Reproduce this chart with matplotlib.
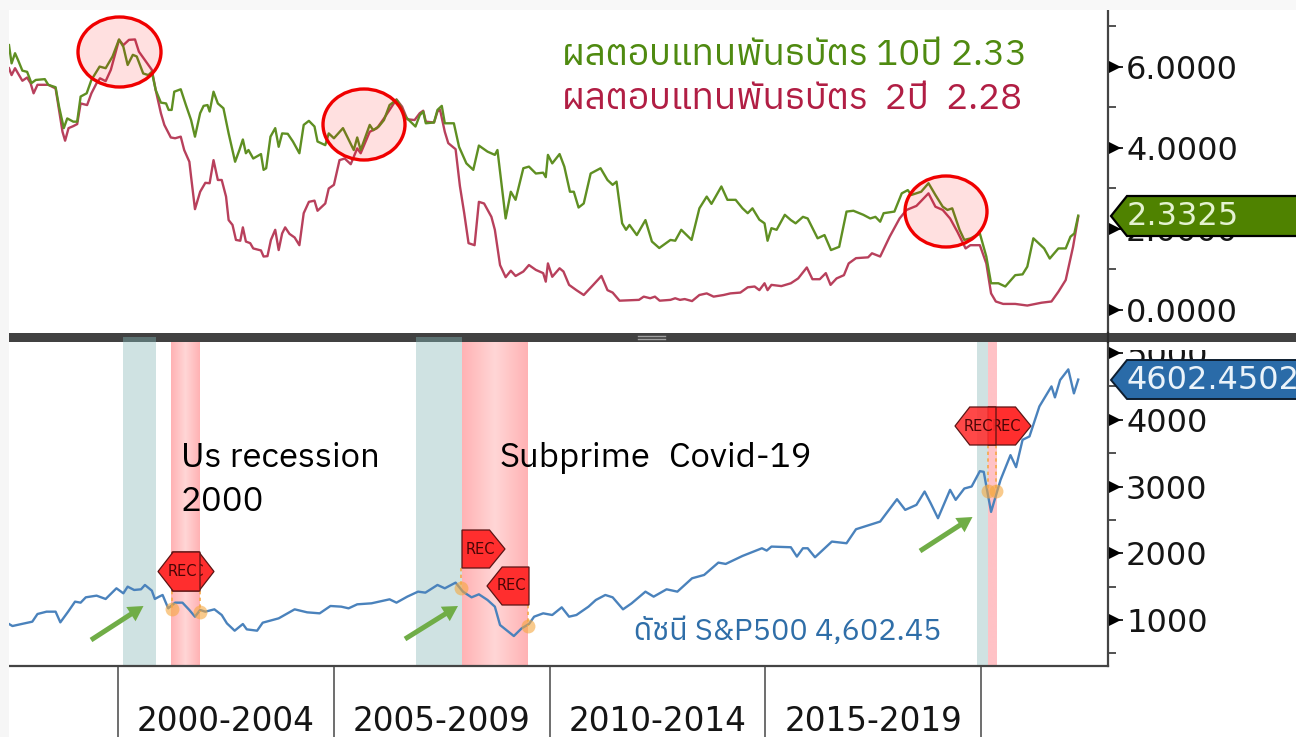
import numpy as np
import matplotlib
matplotlib.use("Agg")
import matplotlib.pyplot as plt
from matplotlib import font_manager as fm
from matplotlib.ft2font import FT2Font
from matplotlib.patches import Ellipse, Polygon, Rectangle, FancyArrow

# ---------- data ----------
y10_year = [1997.47,1997.53,1997.61,1997.68,1997.78,1997.89,1997.99,1998.09,1998.30,1998.38,1998.55,1998.63,1998.74,1998.82,1998.96,1999.05,1999.13,1999.27,1999.38,1999.57,1999.71,1999.87,2000.02,2000.12,2000.22,2000.34,2000.43,2000.58,2000.70,2000.78,2000.87,2000.99,2001.11,2001.17,2001.24,2001.30,2001.45,2001.57,2001.69,2001.78,2001.90,2001.98,2002.07,2002.12,2002.21,2002.31,2002.44,2002.56,2002.71,2002.81,2002.89,2002.96,2003.02,2003.13,2003.31,2003.37,2003.43,2003.53,2003.64,2003.72,2003.80,2003.93,2004.05,2004.20,2004.30,2004.42,2004.55,2004.62,2004.80,2004.88,2005.00,2005.21,2005.46,2005.54,2005.62,2005.83,2005.91,2006.04,2006.16,2006.29,2006.45,2006.53,2006.66,2006.89,2006.99,2007.07,2007.13,2007.32,2007.40,2007.50,2007.57,2007.78,2007.90,2008.07,2008.23,2008.36,2008.56,2008.73,2008.79,2008.89,2008.98,2009.10,2009.21,2009.39,2009.52,2009.68,2009.85,2009.91,2009.96,2010.06,
2010.23,2010.34,2010.47,2010.56,2010.67,2010.79,2010.95,2011.18,2011.34,2011.46,2011.55,2011.68,2011.77,2011.85,2012.02,2012.22,2012.37,2012.54,2012.80,2012.91,2013.05,2013.29,2013.47,2013.64,2013.75,2013.98,2014.12,2014.31,2014.47,2014.59,2014.70,2014.86,2014.98,2015.05,2015.14,2015.26,2015.45,2015.59,2015.70,2015.87,2015.98,2016.21,2016.37,2016.52,2016.71,2016.88,2017.04,2017.27,2017.43,2017.55,2017.66,2017.74,2017.99,2018.16,2018.30,2018.38,2018.61,2018.78,2018.94,2019.11,2019.22,2019.33,2019.50,2019.61,2019.76,2019.97,2020.12,2020.23,2020.40,2020.56,2020.79,2020.96,2021.07,2021.21,2021.46,2021.59,2021.79,2021.96,2022.07,2022.16,2022.25]
y10_value = [6.54,6.09,6.34,6.17,5.91,5.88,5.60,5.68,5.70,5.56,5.50,5.02,4.49,4.73,4.65,4.65,5.27,5.35,5.68,6.01,5.97,6.26,6.68,6.50,6.05,6.30,6.26,5.84,5.80,5.88,5.43,5.12,5.10,4.94,4.94,5.39,5.45,5.06,4.69,4.28,4.86,5.04,5.06,4.90,5.39,5.10,4.98,4.36,3.66,3.95,4.21,3.87,3.95,3.74,3.85,3.46,3.50,4.28,4.49,4.03,4.36,4.35,4.16,3.87,4.57,4.67,4.53,4.16,4.07,4.36,4.24,4.49,3.95,4.26,3.95,4.57,4.44,4.53,4.69,5.06,5.19,5.06,4.77,4.53,4.81,4.90,4.61,4.63,4.94,5.04,4.61,4.61,4.03,3.62,3.46,4.06,3.91,3.83,3.95,3.05,2.26,2.92,2.72,3.50,3.54,3.37,3.39,3.28,3.83,3.62,
3.85,3.54,2.92,2.92,2.53,2.63,3.37,3.50,3.21,3.09,3.17,2.14,1.98,2.10,1.85,2.22,1.69,1.53,1.73,1.71,1.98,1.73,2.51,2.80,2.62,3.05,2.72,2.72,2.51,2.39,2.51,2.23,2.14,1.71,2.02,1.98,2.35,2.22,2.14,2.30,2.26,1.77,1.85,1.48,1.56,2.43,2.45,2.35,2.26,2.30,2.18,2.39,2.43,2.88,2.96,2.84,2.92,3.13,2.84,2.55,2.47,2.51,1.98,1.73,1.77,1.89,1.32,0.66,0.66,0.58,0.86,0.88,1.07,1.77,1.52,1.27,1.52,1.52,1.81,1.89,2.33]

y2_year = [1997.47,1997.53,1997.61,1997.68,1997.78,1997.89,1997.97,1998.04,1998.13,1998.38,1998.55,1998.63,1998.71,1998.77,1998.85,1998.96,1999.05,1999.13,1999.28,1999.38,1999.50,1999.58,1999.71,1999.83,2000.02,2000.12,2000.25,2000.39,2000.48,2000.62,2000.78,2000.87,2000.99,2001.07,2001.22,2001.32,2001.45,2001.53,2001.65,2001.69,2001.78,2001.90,2002.02,2002.12,2002.21,2002.31,2002.40,2002.50,2002.56,2002.65,2002.73,2002.83,2002.89,2002.96,2003.06,2003.13,2003.31,2003.37,2003.46,2003.54,2003.64,2003.72,2003.80,2003.87,2003.97,2004.09,2004.20,2004.30,2004.42,2004.55,2004.62,2004.80,2004.88,2005.00,2005.13,2005.25,2005.39,2005.54,2005.62,2005.83,2006.00,2006.16,2006.29,2006.45,2006.58,2006.70,2006.87,2006.99,2007.07,2007.13,2007.32,2007.40,2007.46,2007.57,2007.65,2007.82,2007.92,2008.02,2008.12,2008.26,2008.36,2008.48,2008.65,2008.73,2008.85,2008.98,2009.10,2009.21,2009.39,2009.52,2009.68,2009.85,2009.91,2009.96,2010.06,
2010.23,2010.32,2010.45,2010.62,2010.79,2011.01,2011.20,2011.34,2011.46,2011.62,2012.07,2012.18,2012.33,2012.44,2012.55,2012.80,2012.91,2013.02,2013.13,2013.30,2013.47,2013.64,2013.80,2014.03,2014.19,2014.42,2014.59,2014.75,2014.86,2014.98,2015.05,2015.14,2015.37,2015.59,2015.76,2015.96,2016.09,2016.26,2016.40,2016.51,2016.65,2016.82,2016.93,2017.10,2017.38,2017.47,2017.66,2017.88,2018.11,2018.27,2018.50,2018.78,2018.94,2019.11,2019.28,2019.45,2019.64,2019.75,2019.97,2020.12,2020.23,2020.34,2020.51,2020.79,2021.07,2021.40,2021.63,2021.79,2021.96,2022.13,2022.25]
y2_value = [5.97,5.80,5.97,5.84,5.66,5.74,5.60,5.35,5.56,5.56,5.47,4.94,4.40,4.18,4.49,4.54,4.59,5.10,5.06,5.35,5.60,5.72,5.65,5.93,6.67,6.54,6.67,6.68,6.38,6.17,5.93,5.43,4.86,4.57,4.26,4.24,4.28,3.95,3.66,3.29,2.49,2.92,3.14,3.13,3.70,3.21,3.21,2.80,2.22,2.10,1.73,1.71,2.04,1.69,1.65,1.52,1.47,1.32,1.33,1.73,1.98,1.48,1.89,2.04,1.88,1.79,1.60,2.39,2.67,2.70,2.45,2.63,3.00,3.09,3.70,3.74,3.60,3.99,3.87,4.40,4.49,4.73,4.94,5.20,5.02,4.71,4.69,4.86,4.92,4.65,4.63,4.90,4.94,4.40,4.12,3.97,3.06,2.39,1.65,1.60,2.67,2.63,2.30,1.98,1.11,0.81,0.97,0.84,0.95,1.11,0.99,0.91,0.70,1.15,0.82,
1.03,0.95,0.62,0.49,0.37,0.62,0.84,0.49,0.43,0.23,0.25,0.33,0.29,0.33,0.23,0.25,0.29,0.25,0.27,0.22,0.37,0.41,0.33,0.37,0.41,0.43,0.56,0.58,0.49,0.66,0.49,0.62,0.59,0.66,0.78,1.05,0.76,0.76,0.91,0.62,0.78,0.86,1.15,1.28,1.30,1.40,1.32,1.81,2.26,2.47,2.57,2.88,2.55,2.47,2.26,1.93,1.52,1.60,1.60,1.15,0.41,0.21,0.15,0.15,0.11,0.18,0.21,0.45,0.74,1.56,2.30]

spx_year = [1997.47,1997.55,1997.76,1998.01,1998.13,1998.34,1998.55,1998.66,1998.84,1999.00,1999.13,1999.25,1999.50,1999.71,1999.96,2000.12,2000.22,2000.37,2000.53,2000.62,2000.78,2000.85,2000.95,2001.03,2001.16,2001.32,2001.49,2001.65,2001.78,2001.90,2002.02,2002.23,2002.40,2002.52,2002.70,2002.89,2002.98,2003.22,2003.35,2003.72,2004.09,2004.38,2004.67,2004.92,2005.17,2005.34,2005.54,2005.87,2006.29,2006.45,2006.70,2006.95,2007.12,2007.40,2007.57,2007.82,2007.99,2008.19,2008.36,2008.56,2008.73,2008.85,2009.17,2009.35,2009.52,2009.64,2009.85,2010.06,
2010.28,2010.45,2010.62,2010.90,2011.07,2011.29,2011.46,2011.70,2011.90,2012.22,2012.41,2012.71,2012.96,2013.30,2013.58,2013.91,2014.08,2014.47,2014.92,2015.03,2015.14,2015.59,2015.73,2015.87,2015.98,2016.15,2016.54,2016.88,2017.10,2017.49,2017.66,2018.05,2018.24,2018.50,2018.69,2018.83,2019.00,2019.28,2019.41,2019.61,2019.78,2019.97,2020.06,2020.23,2020.45,2020.68,2020.81,2020.96,2021.12,2021.35,2021.63,2021.71,2021.83,2022.02,2022.15,2022.25]
spx_value = [940,910,940,975,1090,1125,1125,965,1125,1275,1260,1340,1365,1315,1475,1400,1500,1450,1460,1525,1440,1315,1350,1375,1175,1260,1260,1150,1050,1150,1125,1160,1075,950,840,940,860,840,960,1025,1160,1115,1100,1210,1200,1175,1235,1250,1310,1260,1350,1425,1410,1525,1475,1560,1425,1340,1385,1300,1200,925,760,875,940,1050,1100,1075,
1190,1050,1075,1200,1300,1375,1340,1160,1250,1425,1350,1460,1425,1625,1675,1860,1840,1960,2075,2040,2100,2090,1950,2075,2075,1940,2175,2150,2360,2440,2475,2810,2650,2725,2925,2750,2525,2950,2800,2970,3000,3230,3220,2620,3100,3470,3290,3700,3750,4200,4500,4335,4595,4755,4395,4602]

early_bands = [(2000.12, 2000.88), (2006.91, 2007.97), (2019.91, 2020.16)]
recession_bands = [(2001.23, 2001.88), (2007.97, 2009.48), (2020.16, 2020.35)]
period_ticks = [2000, 2005, 2010, 2015, 2020]
period_mids = [2002.5, 2007.5, 2012.5, 2017.5]
period_labels = ["2000-2004", "2005-2009", "2010-2014", "2015-2019"]
yield_major = [0, 2, 4, 6]
yield_minor = [1, 3, 5, 7]
spx_major = [1000, 2000, 3000, 4000, 5000]
spx_minor = [500, 1500, 2500, 3500, 4500]

# ---------- fonts ----------
def thai_font():
    found = []
    for f in fm.fontManager.ttflist:
        try:
            cmap = FT2Font(f.fname).get_charmap()
        except Exception:
            continue
        if 0x0E1C in cmap and 0x0E31 in cmap:
            found.append(f.name)
    return sorted(set(found))
thai = thai_font()
text_fam = (thai[:1] if thai else []) + ["Noto Sans", "DejaVu Sans"]

W, H = 1296, 737
LEFT, RIGHT = 9, 1108
fig = plt.figure(figsize=(W / 100, H / 100), dpi=100, facecolor="white")

def add_axes(top, bottom):
    return fig.add_axes([LEFT / W, 1 - bottom / H, (RIGHT - LEFT) / W, (bottom - top) / H])

xlim = (1997.47, 2022.94)
BLACK = "#151515"
AXC = "#444444"
TICK_FS = 23

ax1 = add_axes(10, 333)
ax2 = add_axes(342, 666)
for ax in (ax1, ax2):
    ax.set_facecolor("white")
    ax.set_xlim(*xlim)
    for s in ("left", "top"):
        ax.spines[s].set_visible(False)
    ax.spines["right"].set_color(AXC)
    ax.spines["right"].set_linewidth(1.6)
    ax.yaxis.tick_right()
    ax.tick_params(axis="y", which="major", length=11, width=1.3, color=BLACK, pad=2,
                   labelsize=TICK_FS, labelcolor=BLACK)
    ax.tick_params(axis="y", which="minor", length=5.5, width=1.3, color=AXC)

# top panel
ax1.spines["bottom"].set_visible(False)
ax1.tick_params(axis="x", length=0, labelbottom=False)
ax1.set_ylim(-0.568, 7.407)
ax1.set_yticks(yield_major)
ax1.set_yticklabels([f"{v:.4f}" for v in yield_major])
ax1.set_yticks(yield_minor, minor=True)
ax1.plot(y10_year, y10_value, color="#5F8F22", lw=1.7, zorder=3, solid_joinstyle="round")
ax1.plot(y2_year, y2_value, color="#B8405C", lw=1.7, zorder=2.9, solid_joinstyle="round")
ax1.plot([1.0065] * len(yield_major), yield_major, ">", ms=9, color="black", mew=0,
         transform=ax1.get_yaxis_transform(), clip_on=False, zorder=5)

# bottom panel
ax2.set_ylim(311, 5165)
ax2.set_yticks(spx_major)
ax2.set_yticks(spx_minor, minor=True)
ax2.spines["bottom"].set_color(AXC)
ax2.spines["bottom"].set_linewidth(1.6)
ax2.set_xticks(period_ticks)
ax2.set_xticklabels([""] * len(period_ticks))
ax2.set_xticks(period_mids, minor=True)
ax2.set_xticklabels(period_labels, minor=True)
ax2.tick_params(axis="x", which="major", length=52, width=1.2, color="#555555")
ax2.tick_params(axis="x", which="minor", length=0, pad=28, labelsize=TICK_FS + 0.5, labelcolor=BLACK)

teal = "#CFE2E2"
for a, b in early_bands:
    ax2.axvspan(a, b, color=teal, lw=0, zorder=1)
def band_image(edge, centre):
    t = np.abs(np.linspace(-1, 1, 64))[None, :, None]
    e, c = np.array(matplotlib.colors.to_rgb(edge)), np.array(matplotlib.colors.to_rgb(centre))
    return c + (e - c) * t
for i, (a, b) in enumerate(recession_bands):
    img = band_image("#FFB2B4", "#FFD6D6") if i < 2 else band_image("#FFC2C6", "#FFC2C6")
    ax2.imshow(img, extent=(a, b, 311, 5165), aspect="auto", zorder=1, interpolation="bilinear")
ax2.set_xlim(*xlim)
ax2.set_ylim(311, 5165)
ax2.plot(spx_year, spx_value, color="#4A82BC", lw=1.7, zorder=3, solid_joinstyle="round")
ax2.plot([1.0065] * len(spx_major), spx_major, ">", ms=9, color="black", mew=0,
         transform=ax2.get_yaxis_transform(), clip_on=False, zorder=5)

# ---------- overlay in figure pixels ----------
ov = fig.add_axes([0, 0, 1, 1], zorder=10)
ov.set_xlim(0, W)
ov.set_ylim(H, 0)
ov.axis("off")
ov.patch.set_alpha(0)

# outer margin of the screenshot, panel divider and grip
ov.add_patch(Rectangle((0, 0), LEFT, H, fc="#F6F6F6", ec="none", zorder=0.5))
ov.add_patch(Rectangle((0, 0), W, 10, fc="#F8F8F8", ec="none", zorder=0.5))
ov.add_patch(Rectangle((LEFT, 333), W - LEFT, 9, fc="#414141", ec="none", zorder=1))
ov.plot([1108, 1108], [333, 342], color="#2A2A2A", lw=1.6, zorder=1.5)
for yy in (335.5, 338.5):
    ov.plot([638, 665], [yy, yy], color="#A0A0A0", lw=1, zorder=2)
# the teal bands show through the lower part of the divider
for a, b in [(123, 156), (416, 462)]:
    ov.add_patch(Rectangle((a, 337), b - a, 5, fc="#5C7272", ec="none", zorder=2))
# hide the top of the clipped 5000 label
ov.add_patch(Rectangle((1124, 342), 172, 8, fc="white", ec="none", zorder=2))

# circles
for cx, cy, w, h in [(119.5, 52, 83, 70), (364, 124.5, 82, 71), (946, 211.5, 82, 71)]:
    ov.add_patch(Ellipse((cx, cy), w, h, fc=(1, 0, 0, 0.12), ec="#F00000", lw=2.4, zorder=3))

# value tags
ov.add_patch(Polygon([(1111, 216), (1127, 196), (1300, 196), (1300, 236), (1127, 236)],
                     closed=True, fc="#4F8200", ec="black", lw=1.6, zorder=4))
ov.text(1127, 216, "2.3325", color="#E4F2D0", fontsize=TICK_FS, va="center", ha="left", zorder=5)
ov.add_patch(Polygon([(1111, 380), (1127, 360), (1300, 360), (1300, 399), (1127, 399)],
                     closed=True, fc="#2A6BA8", ec="#0E1E30", lw=1.4, zorder=4))
ov.text(1127, 380, "4602.4502", color="#EAF3FA", fontsize=TICK_FS, va="center", ha="left", zorder=5,
        clip_on=True)

# text annotations
ov.text(562, 55, "ผลตอบแทนพันธบัตร 10ปี 2.33", color="#4F8A10", fontsize=26.4, family=text_fam, va="center", zorder=6)
ov.text(562, 99, "ผลตอบแทนพันธบัตร  2ปี  2.28", color="#B11E44", fontsize=26.4, family=text_fam, va="center", zorder=6)
ov.text(634, 632, "ดัชนี S&P500 4,602.45", color="#2F6EA8", fontsize=22, family=text_fam, va="center", zorder=6)
ov.text(181, 458, "Us recession", color="black", fontsize=25, family=text_fam, va="center", zorder=6)
ov.text(181, 502, "2000", color="black", fontsize=25, family=text_fam, va="center", zorder=6)
ov.text(500, 458, "Subprime", color="black", fontsize=25, family=text_fam, va="center", zorder=6)
ov.text(669, 458, "Covid-19", color="black", fontsize=25, family=text_fam, va="center", zorder=6)

# green arrows
for x0, y0, x1, y1 in [(91, 640, 143.5, 606), (405, 639, 458, 606), (920, 551, 972.5, 517)]:
    ov.add_patch(FancyArrow(x0, y0, x1 - x0, y1 - y0, width=5, head_width=17, head_length=15,
                            length_includes_head=True, fc="#70AD47", ec="none", zorder=6))

# recession flags
def flag(x0, x1, ytop, ybot, direction, alpha=1.0):
    mid = (ytop + ybot) / 2
    d = (x1 - x0) * 0.36
    if direction == "left":
        pts = [(x0, mid), (x0 + d, ytop), (x1, ytop), (x1, ybot), (x0 + d, ybot)]
        tx = (x0 + d * 0.45 + x1) / 2
    else:
        pts = [(x1, mid), (x1 - d, ytop), (x0, ytop), (x0, ybot), (x1 - d, ybot)]
        tx = (x1 - d * 0.45 + x0) / 2
    ov.add_patch(Polygon(pts, closed=True, fc=(1, 0.18, 0.18, alpha), ec="#5A1414", lw=0.9, zorder=7))
    ov.text(tx, mid, "REC", color="#4A0606", fontsize=10.5, ha="center", va="center", zorder=7)

flag(172, 214, 552, 591, "right")
flag(158, 200, 552, 591, "left")
flag(462, 505, 530, 568, "right")
flag(487, 529, 567, 605, "left")
flag(988, 1031, 407, 445, "right")
flag(955, 996, 407, 445, "left", alpha=0.88)

# recession dots and dashes
for x, y, ytop in [(172, 609, 591), (200, 612, 591), (461, 588, 568), (528, 626, 605), (988, 491, 445), (996, 491, 445)]:
    ov.plot([x, x], [ytop, y], color="#F5A84A", lw=1.2, ls=(0, (2, 2)), zorder=5)
    ov.plot(x, y, "o", ms=10, color="#F5A840", alpha=0.6, mew=0, zorder=5)

fig.savefig("out.png", dpi=100, facecolor=fig.get_facecolor())
